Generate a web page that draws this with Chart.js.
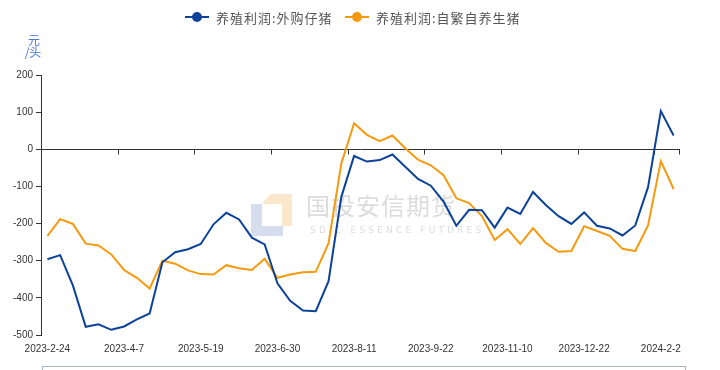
<!DOCTYPE html>
<html>
<head>
<meta charset="utf-8">
<script src="https://cdn.jsdelivr.net/npm/chart.js@4.4.1/dist/chart.umd.min.js"></script>
<style>
  html, body { margin: 0; padding: 0; background: #fff; }
  #wrap { position: relative; width: 720px; height: 370px; }
</style>
</head>
<body>
<div id="wrap"><canvas id="c" width="720" height="370"></canvas></div>
<script>
// ============================================================
// DATA
// ============================================================
const weeks = [
  '2023-2-24','2023-3-3','2023-3-10','2023-3-17','2023-3-24','2023-3-31','2023-4-7','2023-4-14','2023-4-21','2023-4-28',
  '2023-5-5','2023-5-12','2023-5-19','2023-5-26','2023-6-2','2023-6-9','2023-6-16','2023-6-23','2023-6-30','2023-7-7',
  '2023-7-14','2023-7-21','2023-7-28','2023-8-4','2023-8-11','2023-8-18','2023-8-25','2023-9-1','2023-9-8','2023-9-15',
  '2023-9-22','2023-9-29','2023-10-13','2023-10-20','2023-10-27','2023-11-3','2023-11-10','2023-11-17','2023-11-24','2023-12-1',
  '2023-12-8','2023-12-15','2023-12-22','2023-12-29','2024-1-5','2024-1-12','2024-1-19','2024-1-26','2024-2-2','2024-2-9'
];
// 养殖利润:外购仔猪
const profitBought = [
  -296, -285, -367, -478, -471, -486, -477, -458, -442, -304,
  -277, -269, -255, -202, -171, -189, -238, -256, -361, -408,
  -434, -436, -355, -128, -18, -33, -29, -14, -47, -80,
  -98, -141, -206, -163, -164, -211, -157, -174, -115, -150,
  -180, -201, -170, -206, -213, -232, -205, -102, 103, 37
];
// 养殖利润:自繁自养生猪
const profitSelfBred = [
  -233, -188, -201, -254, -259, -283, -325, -346, -375, -300,
  -308, -326, -336, -337, -312, -320, -325, -295, -346, -337,
  -331, -330, -253, -38, 70, 39, 22, 37, 3, -28,
  -43, -70, -132, -145, -180, -244, -215, -255, -212, -252,
  -276, -274, -207, -220, -233, -268, -274, -205, -32, -107
];
const seriesNames = ['养殖利润:外购仔猪', '养殖利润:自繁自养生猪'];
const seriesColors = ['#0c4299', '#f59a0e'];
const yTicks = { min: -500, max: 200, step: 100 };
const labelEvery = 6;

// ============================================================
// PLUGINS
// ============================================================
const CJK = '"Noto Sans CJK SC", "Noto Sans", sans-serif';

// watermark behind the lines
const watermarkPlugin = {
  id: 'watermark',
  beforeDatasetsDraw(chart) {
    const ctx = chart.ctx;
    ctx.save();
    ctx.fillStyle = '#d5ddee';
    ctx.fillRect(251, 204, 11, 32);
    ctx.fillRect(251, 226, 32, 10);
    ctx.fillStyle = '#fbe8cc';
    ctx.beginPath();
    ctx.moveTo(262, 204); ctx.lineTo(270, 194); ctx.lineTo(292, 194);
    ctx.lineTo(292, 226); ctx.lineTo(282, 226); ctx.lineTo(282, 204);
    ctx.closePath(); ctx.fill();
    ctx.fillStyle = '#dcdcdc';
    ctx.font = '24px ' + CJK;
    ctx.textBaseline = 'middle';
    ctx.textAlign = 'left';
    ctx.letterSpacing = '1px';
    ctx.fillText('国投安信期货', 306, 206);
    ctx.font = '9px "DejaVu Sans", sans-serif';
    ctx.letterSpacing = '3.2px';
    ctx.fillText('SDIC ESSENCE FUTURES', 310, 231);
    ctx.restore();
  }
};

// x axis line sits on zero, ticks at category boundaries
const zeroAxisPlugin = {
  id: 'zeroAxis',
  beforeDatasetsDraw(chart) {
    const { ctx, chartArea, scales: { x, y } } = chart;
    const y0 = Math.round(y.getPixelForValue(0)) + 0.5;
    const half = (x.getPixelForValue(1) - x.getPixelForValue(0)) / 2;
    ctx.save();
    ctx.strokeStyle = '#333';
    ctx.lineWidth = 1;
    ctx.beginPath();
    ctx.moveTo(chartArea.left, y0); ctx.lineTo(chartArea.right, y0);
    for (let i = labelEvery; i < weeks.length; i += labelEvery) {
      const px = Math.round(x.getPixelForValue(i) - half) + 0.5;
      ctx.moveTo(px, y0); ctx.lineTo(px, y0 + 5);
    }
    const pr = Math.round(chartArea.right) - 0.5;
    ctx.moveTo(pr, y0); ctx.lineTo(pr, y0 + 5);
    ctx.stroke();
    ctx.restore();
  }
};

// legend, unit title and slider frame
const decorPlugin = {
  id: 'decor',
  afterDraw(chart) {
    const ctx = chart.ctx;
    ctx.save();
    const items = [{ cx: 197, tx: 216 }, { cx: 357, tx: 376 }];
    items.forEach((it, k) => {
      ctx.strokeStyle = seriesColors[k];
      ctx.fillStyle = seriesColors[k];
      ctx.lineWidth = 2;
      ctx.beginPath(); ctx.moveTo(it.cx - 12, 17); ctx.lineTo(it.cx + 12, 17); ctx.stroke();
      ctx.beginPath(); ctx.arc(it.cx, 17, 5, 0, Math.PI * 2); ctx.fill();
      ctx.fillStyle = '#555';
      ctx.font = '13px ' + CJK;
      ctx.letterSpacing = '1px';
      ctx.textBaseline = 'middle';
      ctx.textAlign = 'left';
      ctx.fillText(seriesNames[k], it.tx, 18);
    });
    ctx.letterSpacing = '0px';
    ctx.fillStyle = '#4a76d6';
    ctx.font = '12px ' + CJK;
    ctx.textAlign = 'center';
    ctx.fillText('元', 34, 40);
    ctx.fillText('/头', 33, 52);
    ctx.strokeStyle = '#a9b6ca';
    ctx.lineWidth = 1;
    ctx.strokeRect(42.5, 366.5, 643, 10);
    ctx.restore();
  }
};

// ============================================================
// CHART
// ============================================================
new Chart(document.getElementById('c').getContext('2d'), {
  type: 'line',
  data: {
    labels: weeks,
    datasets: [
      { label: seriesNames[0], data: profitBought, borderColor: seriesColors[0], backgroundColor: seriesColors[0],
        borderWidth: 2, pointRadius: 0, tension: 0 },
      { label: seriesNames[1], data: profitSelfBred, borderColor: seriesColors[1], backgroundColor: seriesColors[1],
        borderWidth: 2, pointRadius: 0, tension: 0 },
    ]
  },
  options: {
    responsive: false, animation: false,
    layout: { padding: { left: 0, right: 40, top: 75, bottom: 0 } },
    plugins: { legend: { display: false }, tooltip: { enabled: false } },
    scales: {
      x: {
        type: 'category', offset: true,
        grid: { display: false },
        border: { display: false },
        ticks: {
          autoSkip: false, maxRotation: 0, padding: 0, color: '#333',
          font: { size: 10, family: '"Liberation Sans", Arial, sans-serif' },
          callback: (v, i) => (i % labelEvery === 0 ? weeks[i] : null),
        },
        afterFit: s => { s.height = 35; },
      },
      y: {
        min: yTicks.min, max: yTicks.max,
        grid: { drawOnChartArea: false, drawTicks: true, tickLength: 5, color: '#333' },
        border: { display: true, color: '#333' },
        ticks: {
          stepSize: yTicks.step, padding: 3, color: '#333',
          font: { size: 10, family: '"Liberation Sans", Arial, sans-serif' },
        },
        afterFit: s => { s.width = 41; },
      }
    }
  },
  plugins: [watermarkPlugin, zeroAxisPlugin, decorPlugin]
});
</script>
</body>
</html>
